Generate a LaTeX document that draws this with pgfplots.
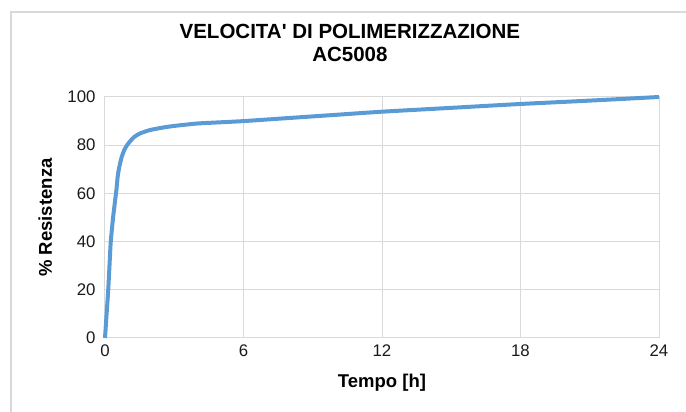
\documentclass[border=0pt]{standalone}
\usepackage{pgfplots}
\pgfplotsset{compat=1.18}
\usepackage{fontspec}
\setmainfont{Liberation Sans}[Ligatures=TeXOff]
\definecolor{lineblue}{RGB}{91,155,213}
\definecolor{gridgray}{RGB}{217,217,217}
\begin{document}
\begin{tikzpicture}[x=1pt,y=1pt]
\useasboundingbox (0,0) rectangle (686,412);
\draw[gridgray, line width=1.2pt] (11,0) -- (11,400) -- (686,400);
\begin{axis}[
  at={(105pt,74pt)}, anchor=south west,
  scale only axis, width=554pt, height=241pt,
  xmin=0, xmax=24, ymin=0, ymax=100,
  xtick={0,6,12,18,24}, ytick={0,20,40,60,80,100},
  grid=major,
  major grid style={gridgray, line width=1pt},
  axis line style={gridgray, line width=1pt},
  tick style={draw=none},
  /pgf/number format/assume math mode=true,
  ticklabel style={font=\fontsize{16.8}{19}\selectfont, text=black!90},
  xticklabel style={yshift=-3pt},
  yticklabel style={xshift=-6pt},
  title={\textbf{VELOCITA' DI POLIMERIZZAZIONE}\\\textbf{AC5008}},
  title style={font=\fontsize{20.5}{23}\selectfont, align=center, at={(rel axis cs:0.442,1.199)}, anchor=center},
  xlabel={\textbf{Tempo [h]}},
  xlabel style={font=\fontsize{18.5}{21}\selectfont, at={(rel axis cs:0.5,-0.187)}, anchor=center},
  ylabel={\textbf{\% Resistenza}},
  ylabel style={font=\fontsize{18.5}{21}\selectfont, at={(rel axis cs:-0.108,0.5)}, anchor=center, rotate=0},
  clip=false,
]
\addplot[lineblue, line width=4pt, smooth, tension=0.4] coordinates {
(0,0) (0.07,10) (0.14,20) (0.2,31) (0.25,40) (0.35,50) (0.45,58) (0.5,62) (0.55,67)
(0.62,71) (0.72,75) (0.85,78.3) (1.0,80.6) (1.25,83.3) (1.5,84.8) (1.75,85.7) (2,86.4)
(2.5,87.3) (3,88) (4,89) (5,89.5) (6,90) (8,91.3) (10,92.6) (12,93.9) (15,95.5)
(18,97.1) (21,98.5) (24,100)
};
\end{axis}
\end{tikzpicture}
\end{document}
